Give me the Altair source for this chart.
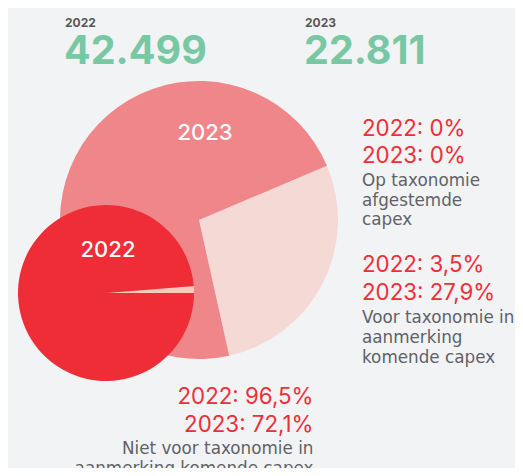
import math
import altair as alt
import pandas as pd

# ---- data ----
years = ["2022", "2023"]
totals = ["42.499", "22.811"]
categories = [
    "Op taxonomie afgestemde capex",
    "Voor taxonomie in aanmerking komende capex",
    "Niet voor taxonomie in aanmerking komende capex",
]
category_lines = [
    ["Op taxonomie", "afgestemde", "capex"],
    ["Voor taxonomie in", "aanmerking", "komende capex"],
    ["Niet voor taxonomie in", "aanmerking komende capex"],
]
labels_2022 = ["0%", "3,5%", "96,5%"]
labels_2023 = ["0%", "27,9%", "72,1%"]
share_2023 = [0.0, 27.9, 72.1]
# slice sizes of the small 2022 pie as drawn in the picture
share_2022_drawn = [0.0, 1.25, 98.75]

# ---- styles ----
BG = "#f2f3f5"
GREEN = "#78c8a4"
RED_TXT = "#ee2f38"
GREY_TXT = "#606267"
FONT = "Inter"
GREY_FONT = "DejaVu Sans"

OFF = 8  # page margin: reference pixel -> chart pixel


def txt(s, x, y, size, color, weight="normal", align="left", font=FONT):
    return alt.Chart(pd.DataFrame({"t": [s]})).mark_text(
        font=font, fontSize=size, fontWeight=weight, color=color,
        align=align, baseline="alphabetic"
    ).encode(text="t:N", x=alt.value(x - OFF), y=alt.value(y - OFF))


def pie(shares, colors, cx, cy, r, start_deg):
    df = pd.DataFrame({"cat": categories, "v": shares, "o": [2, 0, 1]})
    a0 = math.radians(start_deg)
    return alt.Chart(df).mark_arc(radius=r).encode(
        theta=alt.Theta("v:Q", stack=True,
                        scale=alt.Scale(range=[a0, a0 + 2 * math.pi])),
        order=alt.Order("o:Q"),
        color=alt.Color("cat:N", scale=alt.Scale(domain=categories, range=colors),
                        legend=None),
        x=alt.value(cx - OFF),
        y=alt.value(cy - OFF),
    )


big = pie(share_2023, ["#ef8689", "#f5d9d4", "#ef8689"], 199, 220, 139, 67)
small = pie(share_2022_drawn, ["#ee2d36", "#f8cbbb", "#ee2d36"], 106, 293, 88, 85.5)

layers = [big, small]

# headline totals
layers += [
    txt(years[0], 65, 26.5, 12, "#56575b", "bold"),
    txt(totals[0], 64, 64, 39.5, GREEN, "bold"),
    txt(years[1], 305, 26.5, 12, "#56575b", "bold"),
    txt(totals[1], 304, 64, 39.5, GREEN, "bold"),
]

# labels inside pies
layers += [
    txt(years[1], 205, 140, 22, "white", 500, "center"),
    txt(years[0], 108, 257, 22, "white", 500, "center"),
]

# annotation blocks
blocks = [
    (362, [136, 163.3], [186, 205.5, 225], "left", 0),
    (362, [271.7, 300], [323.3, 343.3, 363.3], "left", 1),
    (313.5, [404.3, 431.7], [454, 474], "right", 2),
]
for x, ry, gy, al, i in blocks:
    layers.append(txt(f"{years[0]}: {labels_2022[i]}", x, ry[0], 22.3, RED_TXT, "normal", al))
    layers.append(txt(f"{years[1]}: {labels_2023[i]}", x, ry[1], 22.3, RED_TXT, "normal", al))
    for line, yy in zip(category_lines[i], gy):
        layers.append(txt(line, x, yy, 16.8, GREY_TXT, "normal", al, font=GREY_FONT))

chart = alt.layer(*layers).resolve_scale(
    theta="independent", color="independent"
).properties(
    width=507, height=460, background=BG, padding=0, autosize="none"
).configure_view(stroke=None)

chart.save("out.html", embed_options={"renderer": "svg", "actions": False})
